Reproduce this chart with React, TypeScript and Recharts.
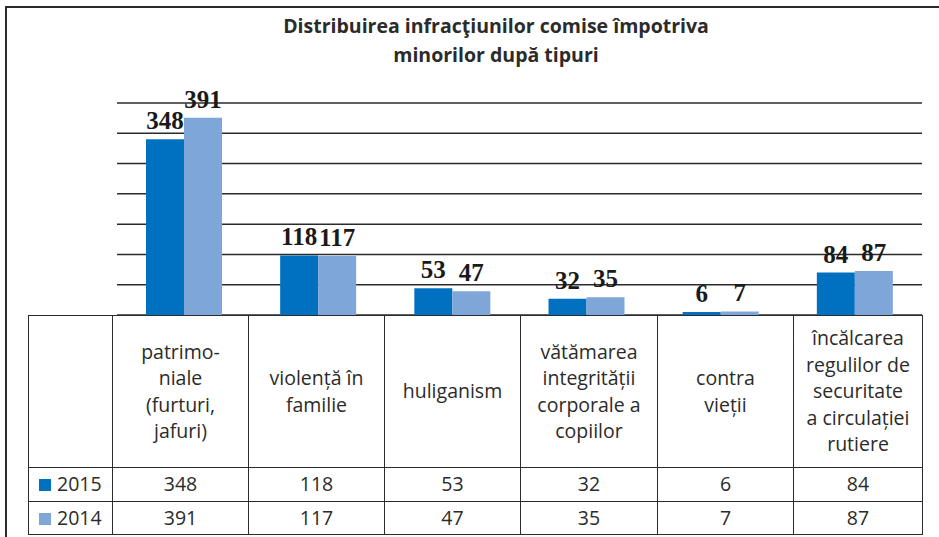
import React from "react";
import { BarChart, Bar, XAxis, YAxis, CartesianGrid, LabelList } from "recharts";

const categories = [
  "patrimo-\nniale\n(furturi,\njafuri)",
  "violență în\nfamilie",
  "huliganism",
  "vătămarea\nintegrității\ncorporale a\ncopiilor",
  "contra\nvieții",
  "încălcarea\nregulilor de\nsecuritate\na circulației\nrutiere",
];
const values2015 = [348, 118, 53, 32, 6, 84];
const values2014 = [391, 117, 47, 35, 7, 87];
const yTicks = [0, 60, 120, 180, 240, 300, 360, 420];

const series = [
  { key: "y2015", name: "2015", values: values2015, color: "#0070C0" },
  { key: "y2014", name: "2014", values: values2014, color: "#7EA6D8" },
];

const chartData = categories.map((c, i) => ({
  name: c,
  y2015: values2015[i],
  y2014: values2014[i],
}));

const colEdges = [28, 112, 248, 384, 520, 657, 793, 922];
const border = "1.5px solid #2b2b2b";
const textFont = "'Open Sans', 'Noto Sans', sans-serif";

export default function App() {
  return (
    <div
      style={{
        position: "absolute",
        left: 0,
        top: 0,
        width: 939,
        height: 537,
        overflow: "hidden",
        background: "#fff",
        fontFamily: textFont,
      }}
    >
      {/* outer frame, only top and left edges are in view */}
      <div
        style={{
          position: "absolute",
          left: 5,
          top: 6,
          width: 2000,
          height: 2000,
          borderTop: "2px solid #2b2b2b",
          borderLeft: "2px solid #2b2b2b",
        }}
      />

      <div
        style={{
          position: "absolute",
          left: 196,
          width: 600,
          top: 11,
          textAlign: "center",
          fontWeight: 700,
          fontSize: 19.5,
          lineHeight: "29px",
          color: "#2b2b2b",
        }}
      >
        Distribuirea infracţiunilor comise împotriva
        <br />
        minorilor după tipuri
      </div>

      <div style={{ position: "absolute", left: 0, top: 0 }}>
        <BarChart
          width={939}
          height={330}
          data={chartData}
          margin={{ top: 103, left: 117, right: 17, bottom: 15 }}
          barGap={0}
          barSize={38}
        >
          <CartesianGrid
            horizontal
            vertical={false}
            stroke="#2b2b2b"
            strokeWidth={1.5}
            strokeOpacity={1}
          />
          <XAxis dataKey="name" hide height={0} />
          <YAxis hide width={0} domain={[0, 420]} ticks={yTicks} />
          {series.map((s) => (
            <Bar key={s.key} dataKey={s.key} fill={s.color} isAnimationActive={false}>
              <LabelList
                dataKey={s.key}
                position="top"
                offset={10}
                fill="#1a1a1a"
                fontFamily="'Liberation Serif', 'Times New Roman', serif"
                fontSize={25}
                fontWeight={700}
              />
            </Bar>
          ))}
        </BarChart>
      </div>

      <table
        style={{
          position: "absolute",
          left: colEdges[0],
          top: 315,
          width: colEdges[colEdges.length - 1] - colEdges[0],
          borderCollapse: "collapse",
          tableLayout: "fixed",
          fontSize: 19.5,
          color: "#2b2b2b",
          border,
        }}
      >
        <colgroup>
          {colEdges.slice(1).map((e, i) => (
            <col key={i} style={{ width: e - colEdges[i] }} />
          ))}
        </colgroup>
        <tbody>
          <tr style={{ height: 152 }}>
            <td style={{ border }} />
            {categories.map((c) => (
              <td
                key={c}
                style={{
                  border,
                  textAlign: "center",
                  verticalAlign: "middle",
                  whiteSpace: "pre-line",
                  lineHeight: "26.5px",
                  padding: 0,
                }}
              >
                {c}
              </td>
            ))}
          </tr>
          {series.map((s) => (
            <tr key={s.key} style={{ height: 33.5 }}>
              <td
                style={{
                  border,
                  padding: "0 0 0 10px",
                  whiteSpace: "nowrap",
                  lineHeight: "30px",
                }}
              >
                <span
                  style={{
                    display: "inline-block",
                    width: 12,
                    height: 12,
                    background: s.color,
                    marginRight: 6,
                    verticalAlign: "0px",
                  }}
                />
                {s.name}
              </td>
              {s.values.map((v, i) => (
                <td
                  key={i}
                  style={{ border, textAlign: "center", padding: 0, lineHeight: "30px" }}
                >
                  {v}
                </td>
              ))}
            </tr>
          ))}
        </tbody>
      </table>
    </div>
  );
}
